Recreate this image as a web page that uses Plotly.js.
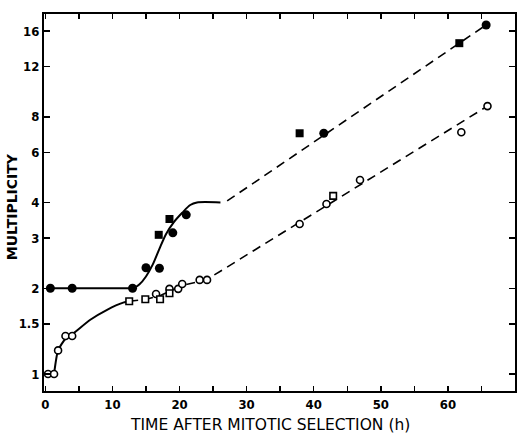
<!DOCTYPE html>
<html>
<head>
<meta charset="utf-8">
<script src="https://cdn.plot.ly/plotly-3.0.1.min.js"></script>
<style>html,body{margin:0;padding:0;background:#fff}#chart{width:520px;height:436px}</style>
</head>
<body>
<div id="chart"></div>
<script>
// Filled symbols (series A)
const aCircleX = [0.75, 4, 13, 15, 17, 19, 21, 41.5, 65.7];
const aCircleY = [2, 2, 2, 2.36, 2.35, 3.13, 3.62, 7.0, 16.8];
const aSquareX = [16.9, 18.5, 37.9, 61.7];
const aSquareY = [3.08, 3.5, 7.0, 14.5];
// Open symbols (series B)
const bCircleX = [0.4, 1.3, 1.9, 3, 4, 16.5, 18.5, 19.8, 20.4, 23, 24.1, 37.9, 41.9, 46.9, 62, 65.9];
const bCircleY = [1, 1, 1.21, 1.36, 1.36, 1.91, 1.99, 1.99, 2.07, 2.14, 2.14, 3.36, 3.95, 4.8, 7.06, 8.72];
const bSquareX = [12.5, 14.9, 17.1, 18.5, 42.9];
const bSquareY = [1.8, 1.83, 1.83, 1.92, 4.22];
// Fitted curves
const aFlatX = [0.75, 12.5];
const aFlatY = [2, 2];
const aSolidX = [12.5, 13.3, 14.0, 15.0, 16.0, 17.0, 18.0, 19.1, 20.4, 21.6, 22.6, 26.1];
const aSolidY = [2, 2.01, 2.06, 2.2, 2.42, 2.75, 3.1, 3.40, 3.68, 3.92, 4.0, 4.0];
const aDashX = [27.1, 65.7];
const aDashY = [4.05, 16.8];
const bSolidX = [1.3, 1.9, 3, 4.2, 6.7, 9.2, 11.6, 12.5];
const bSolidY = [1, 1.21, 1.33, 1.39, 1.55, 1.68, 1.78, 1.8];
const bDashX = [12.5, 15, 17, 18.5, 20.5, 24, 65.9];
const bDashY = [1.8, 1.83, 1.88, 1.95, 2.05, 2.14, 8.72];
// Ticks
const xTickVals = [0,5,10,15,20,25,30,35,40,45,50,55,60,65,70];
const xTickText = ['0','','10','','20','','30','','40','','50','','60','','70'];
const yTickVals = [1, 1.5, 2, 3, 4, 6, 8, 12, 16];
const yTickText = ['1', '1.5', '2', '3', '4', '6', '8', '12', '16'];
const xTitle = 'TIME AFTER MITOTIC SELECTION (h)';
const yTitle = 'MULTIPLICITY';

const FONT = '"DejaVu Sans Condensed", "Liberation Sans Narrow", "DejaVu Sans", sans-serif';
const TFONT = '"DejaVu Sans", sans-serif';
const lineW = 2;

const traces = [
  {x: aFlatX, y: aFlatY, mode: 'lines', line: {color: '#000', width: lineW}, hoverinfo: 'skip'},
  {x: aSolidX, y: aSolidY, mode: 'lines', line: {color: '#000', width: lineW, shape: 'spline', smoothing: 0.8}, hoverinfo: 'skip'},
  {x: aDashX, y: aDashY, mode: 'lines', line: {color: '#000', width: 1.6, dash: '9px,6px'}, hoverinfo: 'skip'},
  {x: bSolidX, y: bSolidY, mode: 'lines', line: {color: '#000', width: lineW, shape: 'spline', smoothing: 0.6}, hoverinfo: 'skip'},
  {x: bDashX, y: bDashY, mode: 'lines', line: {color: '#000', width: 1.6, dash: '9px,6px'}, hoverinfo: 'skip'},
  {x: aCircleX, y: aCircleY, mode: 'markers', marker: {symbol: 'circle', size: 9, color: '#000'}},
  {x: aSquareX, y: aSquareY, mode: 'markers', marker: {symbol: 'square', size: 8, color: '#000'}},
  {x: bCircleX, y: bCircleY, mode: 'markers', marker: {symbol: 'circle', size: 7, color: '#fff', line: {color: '#000', width: 1.6}}},
  {x: bSquareX, y: bSquareY, mode: 'markers', marker: {symbol: 'square', size: 6.5, color: '#fff', line: {color: '#000', width: 1.6}}}
];

const layout = {
  width: 520, height: 436,
  margin: {l: 44, r: 5, t: 14, b: 45},
  paper_bgcolor: '#fff', plot_bgcolor: '#fff',
  showlegend: false,
  font: {family: FONT, color: '#000', size: 13},
  xaxis: {
    range: [-0.2, 70], tickvals: xTickVals, ticktext: xTickText,
    ticks: 'inside', ticklen: 5, tickwidth: 1.5, tickcolor: '#000',
    showline: true, linewidth: 2, linecolor: '#000', mirror: 'ticks',
    showgrid: false, zeroline: false,
    tickfont: {family: FONT, size: 13, color: '#000', weight: 'bold'}
  },
  yaxis: {
    type: 'log', range: [-0.0597, 1.2638], tickvals: yTickVals, ticktext: yTickText,
    ticks: 'inside', ticklen: 6, tickwidth: 1.5, tickcolor: '#000',
    showline: true, linewidth: 2, linecolor: '#000', mirror: 'ticks',
    showgrid: false, zeroline: false,
    tickfont: {family: FONT, size: 13, color: '#000', weight: 'bold'}
  },
  annotations: [
    {text: xTitle, xref: 'paper', yref: 'paper', x: 0.48, y: -0.09, yanchor: 'middle', xanchor: 'center', showarrow: false,
     font: {family: TFONT, size: 15.5, color: '#000'}},
    {text: yTitle, xref: 'paper', yref: 'paper', x: -0.068, y: 0.49, xanchor: 'center', yanchor: 'middle', textangle: -90, showarrow: false,
     font: {family: TFONT, size: 14, color: '#000', weight: 'bold'}}
  ]
};

Plotly.newPlot('chart', traces, layout, {displayModeBar: false, staticPlot: true});
</script>
</body>
</html>
